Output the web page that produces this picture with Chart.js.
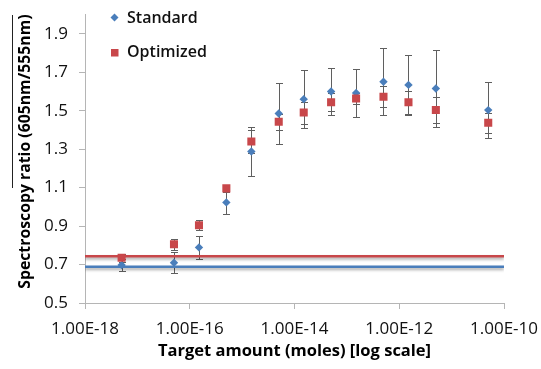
<!DOCTYPE html>
<html><head><meta charset="utf-8">
<script src="https://cdn.jsdelivr.net/npm/chart.js@4.4.0/dist/chart.umd.min.js"></script>
<style>html,body{margin:0;padding:0;background:#fff;}#wrap{width:541px;height:369px;position:relative;}</style>
</head><body><div id="wrap"><canvas id="c" width="541" height="369"></canvas></div>
<script>
// ---- data ----
const amounts = [5e-18, 5e-17, 1.5e-16, 5e-16, 1.5e-15, 5e-15, 1.5e-14, 5e-14, 1.5e-13, 5e-13, 1.5e-12, 5e-12, 5e-11];
const standard = [0.697, 0.709, 0.789, 1.023, 1.288, 1.485, 1.56, 1.60, 1.592, 1.65, 1.634, 1.615, 1.503];
const standardErr = [0.03, 0.055, 0.06, 0.06, 0.128, 0.16, 0.15, 0.12, 0.123, 0.175, 0.154, 0.2, 0.145];
const optimized = [0.735, 0.805, 0.904, 1.096, 1.34, 1.442, 1.49, 1.544, 1.563, 1.572, 1.544, 1.503, 1.437];
const optimizedErr = [0.02, 0.03, 0.025, 0.02, 0.06, 0.04, 0.057, 0.047, 0.03, 0.055, 0.06, 0.068, 0.052];
const standardBaseline = 0.689;
const optimizedBaseline = 0.743;
const xTicks = [1e-18, 1e-16, 1e-14, 1e-12, 1e-10];
const xTickLabels = ['1.00E-18', '1.00E-16', '1.00E-14', '1.00E-12', '1.00E-10'];
const yTicks = [0.5, 0.7, 0.9, 1.1, 1.3, 1.5, 1.7, 1.9];
const seriesNames = ['Standard', 'Optimized'];
const xTitle = 'Target amount (moles) [log scale]';
const yTitle = 'Spectroscopy ratio (605nm/555nm)';

const BLUE = '#4a7ebb', RED = '#c8474a', ERR = '#5f5f5f', AXIS = '#b5b5b5';
const FONT = '"Open Sans", "Liberation Sans", sans-serif';

function pts(ys) { return amounts.map((a, i) => ({x: a, y: ys[i]})); }
function hline(v) { return [{x: xTicks[0], y: v}, {x: xTicks[xTicks.length - 1], y: v}]; }

const errorBars = {
  id: 'errorBars',
  beforeDatasetsDraw(chart) {
    const ctx = chart.ctx, xs = chart.scales.x, ys = chart.scales.y;
    ctx.save();
    ctx.strokeStyle = ERR; ctx.lineWidth = 1;
    [[standard, standardErr], [optimized, optimizedErr]].forEach(([vals, errs]) => {
      amounts.forEach((a, i) => {
        const x = Math.round(xs.getPixelForValue(a)) + 0.5;
        const y1 = Math.round(ys.getPixelForValue(vals[i] + errs[i])) + 0.5;
        const y2 = Math.round(ys.getPixelForValue(vals[i] - errs[i])) + 0.5;
        ctx.beginPath();
        ctx.moveTo(x, y1); ctx.lineTo(x, y2);
        ctx.moveTo(x - 3.5, y1); ctx.lineTo(x + 3.5, y1);
        ctx.moveTo(x - 3.5, y2); ctx.lineTo(x + 3.5, y2);
        ctx.stroke();
      });
    });
    ctx.restore();
  },
  beforeDatasetDraw(chart, args) {
    const ds = chart.data.datasets[args.index];
    if (ds.shadow) {
      chart.ctx.save();
      chart.ctx.shadowColor = 'rgba(0,0,0,0.35)';
      chart.ctx.shadowBlur = 3;
      chart.ctx.shadowOffsetY = 2;
    }
  },
  afterDatasetDraw(chart, args) {
    const ds = chart.data.datasets[args.index];
    if (ds.shadow) chart.ctx.restore();
  },
  afterDraw(chart) {
    const ctx = chart.ctx;
    ctx.save();
    ctx.font = '600 16px ' + FONT;
    ctx.textBaseline = 'middle';
    ctx.fillStyle = '#111';
    ctx.fillText(seriesNames[0], 127, 18);
    ctx.fillText(seriesNames[1], 127, 52);
    ctx.fillStyle = BLUE;
    ctx.beginPath();
    ctx.moveTo(114.5, 13.5); ctx.lineTo(118.5, 17.5); ctx.lineTo(114.5, 21.5); ctx.lineTo(110.5, 17.5); ctx.closePath(); ctx.fill();
    ctx.fillStyle = RED;
    ctx.fillRect(111, 49, 7.5, 7.5);
    ctx.strokeStyle = '#222'; ctx.lineWidth = 1;
    ctx.beginPath(); ctx.moveTo(12.5, 15); ctx.lineTo(12.5, 188); ctx.stroke();
    ctx.restore();
  }
};

function start() {
  new Chart(document.getElementById('c'), {
    type: 'scatter',
    data: {
      datasets: [
        {label: seriesNames[1], data: pts(optimized), backgroundColor: RED, borderColor: RED, pointStyle: 'rect', pointRadius: 5.7, pointHoverRadius: 5.7, borderWidth: 0, order: 0},
        {label: seriesNames[0], data: pts(standard), backgroundColor: BLUE, borderColor: BLUE, pointStyle: 'rectRot', pointRadius: 4.2, pointHoverRadius: 4.2, borderWidth: 0, order: 1},
        {type: 'line', label: 'opt-base', data: hline(optimizedBaseline), borderColor: RED, borderWidth: 2.5, pointRadius: 0, fill: false, shadow: true, order: 2},
        {type: 'line', label: 'std-base', data: hline(standardBaseline), borderColor: BLUE, borderWidth: 2.5, pointRadius: 0, fill: false, shadow: true, order: 3}
      ]
    },
    options: {
      responsive: false,
      animation: false,
      events: [],
      layout: {padding: {left: 0, right: 37, top: 14.5, bottom: 0}},
      plugins: {legend: {display: false}, tooltip: {enabled: false}},
      scales: {
        x: {
          type: 'logarithmic', min: xTicks[0], max: xTicks[xTicks.length - 1], position: 'bottom',
          afterBuildTicks: s => { s.ticks = xTicks.map(v => ({value: v})); },
          afterFit: s => { s.height = 66; s.paddingLeft = 0; s.paddingRight = 0; },
          ticks: {autoSkip: false, maxRotation: 0, padding: 10, color: '#111', font: {family: FONT, size: 17},
                  callback: (v) => xTickLabels[xTicks.findIndex(t => Math.abs(Math.log10(t) - Math.log10(v)) < 1e-6)]},
          grid: {drawOnChartArea: false, drawTicks: true, tickLength: 6, color: AXIS},
          border: {display: true, color: AXIS, width: 1},
          title: {display: true, text: xTitle, color: '#000', font: {family: FONT, size: 16.5, weight: 'bold'}, padding: {top: 2, bottom: 7.5}}
        },
        y: {
          type: 'linear', min: 0.5, max: 2.0,
          afterBuildTicks: s => { s.ticks = yTicks.map(v => ({value: v})); },
          afterFit: s => { s.width = 85; s.paddingTop = 0; s.paddingBottom = 0; },
          ticks: {padding: 11, color: '#111', font: {family: FONT, size: 17}, callback: v => Number(v).toFixed(1)},
          grid: {drawOnChartArea: false, drawTicks: true, tickLength: 6, color: AXIS},
          border: {display: true, color: AXIS, width: 1},
          title: {display: true, align: 'end', text: yTitle, color: '#000', font: {family: FONT, size: 15.8, weight: 'bold'}, padding: {top: 16.5, bottom: 0}}
        }
      }
    },
    plugins: [errorBars]
  });
}
const loads = [document.fonts.load('16px "Open Sans"'), document.fonts.load('bold 16px "Open Sans"'), document.fonts.load('600 16px "Open Sans"')];
Promise.all(loads).then(start, start);
</script>
</body></html>
